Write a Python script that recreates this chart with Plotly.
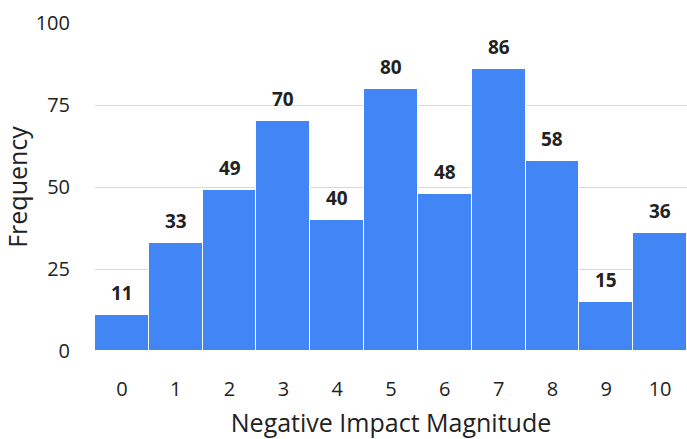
import plotly.graph_objects as go

# Histogram of negative impact magnitude ratings
magnitudes = ["0", "1", "2", "3", "4", "5", "6", "7", "8", "9", "10"]
frequencies = [11, 33, 49, 70, 40, 80, 48, 86, 58, 15, 36]
y_ticks = [0, 25, 50, 75, 100]

FONT = "Open Sans"
BLUE = "#4285F4"
TEXT = "#222222"

fig = go.Figure(
    go.Bar(
        x=magnitudes,
        y=frequencies,
        marker=dict(color=BLUE, line=dict(color="white", width=1)),
        hoverinfo="x+y",
    )
)

for m, f in zip(magnitudes, frequencies):
    fig.add_annotation(
        x=m, y=f, text=f"<b>{f}</b>", showarrow=False,
        yanchor="bottom", yshift=7,
        font=dict(family=FONT, size=19, color=TEXT),
    )

fig.update_layout(
    width=687, height=439,
    margin=dict(l=95, r=0, t=23, b=88),
    paper_bgcolor="white", plot_bgcolor="white",
    bargap=0,
    showlegend=False,
    font=dict(family=FONT, size=20, color=TEXT),
)
fig.update_xaxes(
    title=dict(text="Negative Impact Magnitude", font=dict(size=25), standoff=28),
    showgrid=False, showline=False, zeroline=False,
    ticks="", ticklabelstandoff=24,
    tickfont=dict(size=20),
    automargin=False,
)
fig.update_yaxes(
    title=dict(text="Frequency", font=dict(size=25), standoff=7),
    range=[0, 100], tickvals=y_ticks,
    showgrid=True, gridcolor="#d9d9d9", gridwidth=1,
    zeroline=False, showline=False,
    ticks="", ticklabelstandoff=24,
    tickfont=dict(size=20),
    automargin=False,
)

fig.write_html("out.html")
